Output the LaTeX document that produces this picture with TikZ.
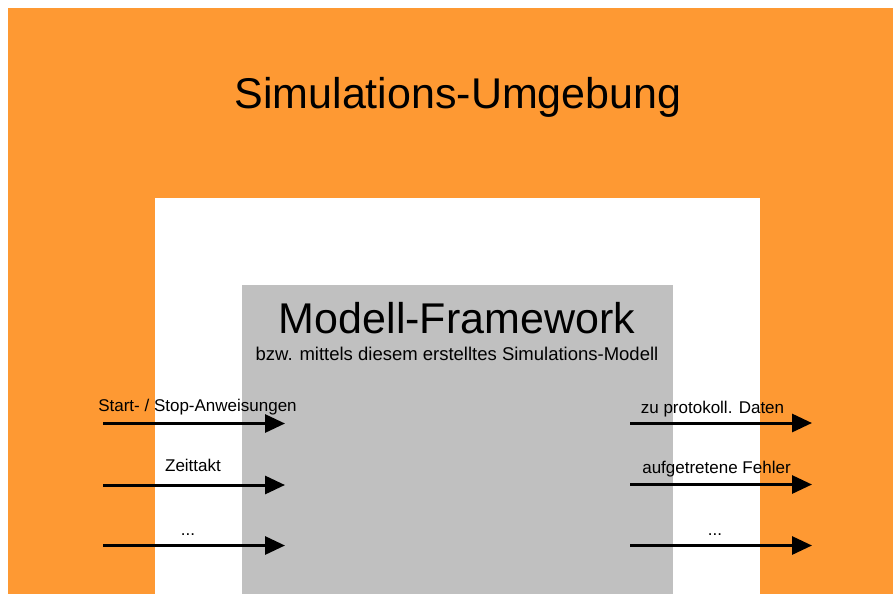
\documentclass[tikz,border=0pt]{standalone}
\usepackage{fontspec}
\setmainfont{Liberation Sans}
\usetikzlibrary{arrows.meta}
\definecolor{envorange}{RGB}{254,153,51}
\definecolor{framegray}{RGB}{192,192,192}
\begin{document}
\begin{tikzpicture}[x=1pt,y=-1pt,
  flow/.style={line width=3pt,-{Triangle[length=20pt,width=18pt]}},
  heading/.style={anchor=base,inner sep=0pt,font=\fontsize{43}{50}\selectfont},
  subheading/.style={anchor=base,inner sep=0pt,font=\fontsize{18.5}{22}\selectfont},
  lbl/.style={anchor=base,inner sep=0pt,font=\fontsize{17}{20}\selectfont}]
\useasboundingbox (0,0) rectangle (893,594);
% layers: environment, interface zone, framework
\fill[white] (0,0) rectangle (893,594);
\fill[envorange] (8,8) rectangle (893,594);
\fill[white] (155,198) rectangle (760,594);
\fill[framegray] (242,285) rectangle (673,594);
% titles
\node[heading] (env) at (458,108) {Simulations-Umgebung};
\node[heading] (fw) at (457,333) {Modell-Framework};
\node[subheading] (fwsub) at (457,360) {bzw. mittels diesem erstelltes Simulations-Modell};
% inputs
\coordinate (in1a) at (103,423.5); \coordinate (in1b) at (285,423.5);
\coordinate (in2a) at (103,485); \coordinate (in2b) at (285,485);
\coordinate (in3a) at (103,545.5); \coordinate (in3b) at (285,545.5);
\draw[flow] (in1a) -- (in1b);
\draw[flow] (in2a) -- (in2b);
\draw[flow] (in3a) -- (in3b);
\node[lbl] (l1) at (197.5,411) {Start- / Stop-Anweisungen};
\node[lbl] (l2) at (193,471) {Zeittakt};
\node[lbl] (l3) at (188,535) {...};
% outputs
\coordinate (out1a) at (630,423); \coordinate (out1b) at (812,423);
\coordinate (out2a) at (630,484.5); \coordinate (out2b) at (812,484.5);
\coordinate (out3a) at (630,545.5); \coordinate (out3b) at (812,545.5);
\draw[flow] (out1a) -- (out1b);
\draw[flow] (out2a) -- (out2b);
\draw[flow] (out3a) -- (out3b);
\node[lbl] (r1) at (712.5,413) {zu protokoll. Daten};
\node[lbl] (r2) at (716.5,473) {aufgetretene Fehler};
\node[lbl] (r3) at (715,535) {...};
\end{tikzpicture}
\end{document}
